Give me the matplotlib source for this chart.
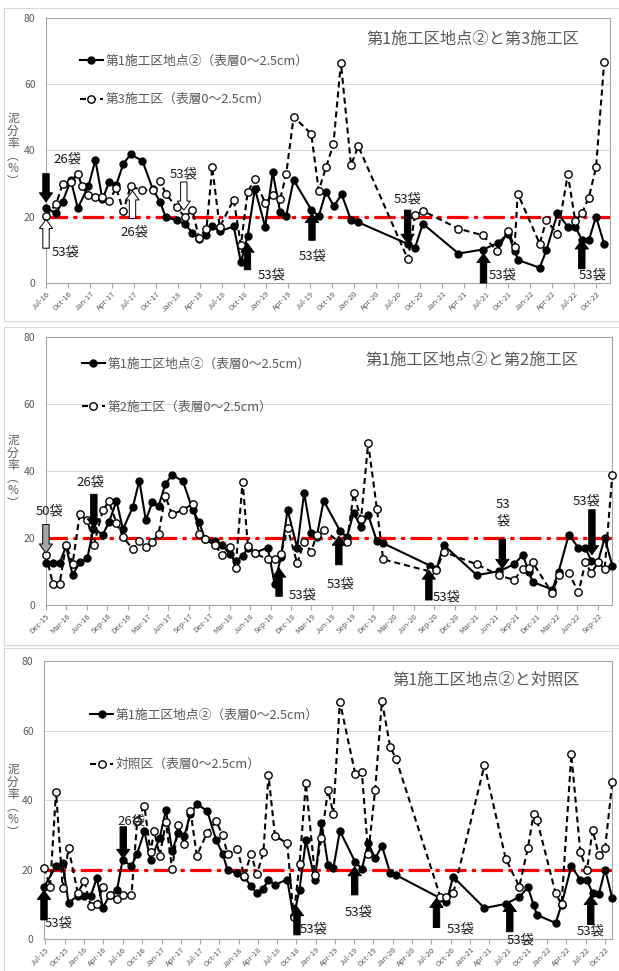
import numpy as np
import pandas as pd
import matplotlib
matplotlib.use('Agg')
import matplotlib.pyplot as plt
import matplotlib.dates as mdates
from matplotlib.patches import Rectangle

plt.rcParams['font.family'] = ['Noto Sans CJK JP', 'DejaVu Sans']

GRAY = '#595959'

# 第1施工区地点② (shared by all three panels)
site1_dates = ['2015-06-25', '2015-08-21', '2015-09-21', '2015-10-19', '2015-12-02', '2016-01-02',
               '2016-02-01', '2016-03-01', '2016-03-30', '2016-05-01', '2016-06-04', '2016-07-01',
               '2016-08-12', '2016-09-08', '2016-10-12', '2016-11-10', '2016-12-24', '2017-01-22',
               '2017-02-20', '2017-03-21', '2017-04-18', '2017-05-18', '2017-06-17', '2017-08-05',
               '2017-09-17', '2017-10-17', '2017-11-10', '2017-12-25', '2018-01-28', '2018-03-01',
               '2018-03-28', '2018-04-28', '2018-05-22', '2018-06-22', '2018-08-19', '2018-09-18',
               '2018-10-16', '2018-11-15', '2018-12-28', '2019-01-28', '2019-02-28', '2019-03-25',
               '2019-04-25', '2019-07-07', '2019-08-07', '2019-09-06', '2019-10-09', '2019-11-10',
               '2019-12-19', '2020-01-16', '2020-08-13', '2020-09-10', '2020-10-12', '2021-03-09',
               '2021-06-18', '2021-08-21', '2021-10-01', '2021-10-28', '2021-11-13', '2022-02-09',
               '2022-03-09', '2022-04-24', '2022-06-06', '2022-07-07', '2022-08-03', '2022-09-01',
               '2022-10-01', '2022-11-04']
site1_vals = [15.0, 20.9, 21.8, 10.4, 12.5, 12.5,
              12.5, 17.5, 9.0, 12.7, 14.0, 22.7,
              21.0, 24.6, 31.0, 22.6, 29.2, 37.1,
              25.3, 30.6, 29.5, 36.0, 38.8, 36.9,
              28.4, 24.6, 19.8, 19.0, 17.8, 15.2,
              13.2, 14.5, 17.1, 15.6, 17.1, 6.3,
              14.2, 28.4, 17.0, 33.4, 21.4, 20.3,
              31.1, 22.1, 20.2, 27.5, 23.2, 26.8,
              19.0, 18.4, 11.7, 10.7, 17.9, 8.9,
              10.1, 12.1, 14.9, 9.7, 6.9, 4.6,
              9.9, 21.0, 17.0, 17.0, 13.1, 12.9,
              20.0, 11.7]

# 第3施工区
site3_dates = ['2016-07-01', '2016-08-12', '2016-09-08', '2016-10-12', '2016-11-10', '2016-11-27',
               '2016-12-24', '2017-01-22', '2017-02-20', '2017-03-21', '2017-04-18', '2017-05-18',
               '2017-06-17', '2017-08-05', '2017-09-17', '2017-10-17', '2017-11-10', '2017-12-25',
               '2018-01-28', '2018-03-01', '2018-03-28', '2018-04-28', '2018-05-22', '2018-06-22',
               '2018-08-19', '2018-09-18', '2018-10-16', '2018-11-15', '2018-12-28', '2019-01-28',
               '2019-02-28', '2019-03-25', '2019-04-25', '2019-07-07', '2019-08-07', '2019-09-06',
               '2019-10-07', '2019-11-07', '2019-12-19', '2020-01-18', '2020-08-11', '2020-09-10',
               '2020-10-12', '2021-03-09', '2021-06-18', '2021-08-16', '2021-10-01', '2021-10-28',
               '2021-11-10', '2022-02-09', '2022-03-09', '2022-04-24', '2022-06-06', '2022-07-07',
               '2022-08-03', '2022-09-01', '2022-10-01', '2022-11-04']
site3_vals = [20.2, 23.8, 29.9, 30.5, 33.0, 29.3,
              26.5, 26.0, 26.1, 24.7, 28.8, 21.7,
              29.2, 28.0, 28.2, 30.8, 27.0, 22.8,
              20.0, 21.9, 13.6, 16.4, 34.9, 16.9,
              25.2, 11.5, 27.5, 31.4, 24.1, 26.5,
              25.3, 32.9, 50.2, 45.0, 27.9, 34.9,
              41.9, 66.5, 35.6, 41.3, 7.2, 20.5,
              21.8, 16.4, 14.4, 9.7, 15.7, 10.9,
              27.0, 11.9, 19.0, 14.7, 32.8, 18.7,
              21.0, 25.8, 34.9, 66.8]

# 第2施工区
site2_dates = ['2015-12-02', '2016-01-02', '2016-02-01', '2016-03-01', '2016-03-30', '2016-05-01',
               '2016-06-04', '2016-07-03', '2016-08-12', '2016-09-08', '2016-10-12', '2016-11-10',
               '2016-12-24', '2017-01-22', '2017-02-20', '2017-03-21', '2017-04-18', '2017-05-18',
               '2017-06-17', '2017-08-05', '2017-09-17', '2017-10-17', '2017-11-10', '2017-12-25',
               '2018-01-28', '2018-03-01', '2018-03-28', '2018-04-28', '2018-05-22', '2018-06-22',
               '2018-08-19', '2018-09-18', '2018-10-16', '2018-11-15', '2018-12-28', '2019-01-28',
               '2019-02-28', '2019-03-25', '2019-04-25', '2019-07-01', '2019-08-07', '2019-09-06',
               '2019-10-09', '2019-11-10', '2019-12-19', '2020-01-16', '2020-08-13', '2020-09-10',
               '2020-10-12', '2021-03-09', '2021-06-18', '2021-08-21', '2021-10-01', '2021-10-28',
               '2021-11-13', '2022-02-09', '2022-03-09', '2022-04-24', '2022-06-06', '2022-07-07',
               '2022-08-03', '2022-09-01', '2022-10-01', '2022-11-04']
site2_vals = [15.0, 6.4, 6.4, 18.0, 12.3, 27.0,
              25.3, 18.0, 28.2, 30.9, 24.5, 20.4,
              16.6, 19.0, 17.4, 18.9, 21.2, 32.5,
              27.0, 28.4, 30.1, 21.2, 19.6, 17.9,
              14.9, 17.4, 10.9, 36.8, 17.6, 15.4,
              13.6, 13.6, 15.1, 22.9, 12.4, 18.9,
              15.9, 20.9, 22.4, 18.9, 18.7, 33.3,
              25.6, 48.3, 28.6, 13.6, 10.0, 10.4,
              15.9, 12.1, 8.8, 7.5, 10.7, 10.9,
              12.7, 3.5, 8.8, 9.5, 3.8, 12.7,
              9.5, 12.7, 10.7, 38.8]

# 対照区
ctrl_dates = ['2015-06-25', '2015-07-24', '2015-08-21', '2015-09-21', '2015-10-19', '2015-12-02',
              '2016-01-02', '2016-02-01', '2016-03-01', '2016-03-30', '2016-05-01', '2016-06-04',
              '2016-07-01', '2016-08-12', '2016-09-08', '2016-10-12', '2016-11-10', '2016-11-27',
              '2016-12-24', '2017-01-22', '2017-02-20', '2017-03-21', '2017-04-18', '2017-05-18',
              '2017-06-17', '2017-08-05', '2017-09-17', '2017-10-17', '2017-11-10', '2017-12-25',
              '2018-01-28', '2018-03-01', '2018-03-28', '2018-04-28', '2018-05-22', '2018-06-22',
              '2018-08-19', '2018-09-18', '2018-10-16', '2018-11-15', '2018-12-28', '2019-01-28',
              '2019-02-28', '2019-03-25', '2019-04-25', '2019-07-07', '2019-08-07', '2019-09-06',
              '2019-10-09', '2019-11-10', '2019-12-19', '2020-01-16', '2020-08-13', '2020-09-10',
              '2020-10-12', '2021-03-09', '2021-06-18', '2021-08-21', '2021-10-01', '2021-10-28',
              '2021-11-13', '2022-02-09', '2022-03-09', '2022-04-24', '2022-06-06', '2022-07-07',
              '2022-08-03', '2022-09-01', '2022-10-01', '2022-11-04']
ctrl_vals = [20.5, 15.1, 42.4, 14.8, 26.1, 13.3,
             16.7, 9.6, 10.0, 15.1, 12.8, 11.5,
             12.8, 12.7, 34.0, 38.3, 24.9, 31.1,
             24.0, 33.7, 20.1, 32.8, 27.3, 36.9,
             24.0, 30.6, 33.9, 29.9, 24.4, 25.9,
             18.2, 24.6, 18.6, 24.9, 47.2, 29.7,
             27.5, 6.4, 21.5, 44.8, 18.4, 29.1,
             42.9, 36.1, 68.3, 47.4, 48.1, 24.4,
             42.9, 68.5, 55.3, 51.8, 12.0, 12.2,
             13.1, 50.0, 23.0, 15.1, 26.3, 36.1,
             34.2, 13.1, 10.0, 53.1, 24.9, 19.8,
             31.4, 24.2, 26.1, 45.3]

label1 = '第1施工区地点②（表層0～2.5cm）'

# arrows: (date, tail value, tip value, fill colour); labels: (date, value, text)
p1_arrows = [('2016-07-01', 33.0, 24.5, 'black'), ('2016-07-01', 10.5, 19.2, 'white'),
             ('2017-06-25', 19.5, 27.8, 'white'), ('2018-01-24', 30.5, 22.0, 'white'),
             ('2018-10-15', 4.0, 12.0, 'black'), ('2019-07-10', 12.9, 21.0, 'black'),
             ('2020-08-10', 22.0, 12.0, 'black'), ('2021-06-21', 0.0, 8.9, 'black'),
             ('2022-08-03', 4.3, 13.0, 'black')]
p1_labels = [('2016-09-27', 37.3, '26袋'), ('2016-09-19', 9.4, '53袋'), ('2017-07-05', 15.4, '26袋'),
             ('2018-01-24', 33.0, '53袋'), ('2019-01-22', 2.5, '53袋'), ('2019-07-12', 8.2, '53袋'),
             ('2020-08-12', 25.2, '53袋'), ('2021-09-10', 2.5, '53袋'), ('2022-09-15', 2.3, '53袋')]

p2_arrows = [('2015-12-02', 24.0, 15.5, '#a6a6a6'), ('2016-07-03', 33.0, 23.0, 'black'),
             ('2018-10-08', 2.6, 11.0, 'black'), ('2019-07-02', 12.0, 20.5, 'black'),
             ('2020-08-07', 1.5, 10.4, 'black'), ('2021-07-01', 19.6, 10.9, 'black'),
             ('2022-08-05', 28.4, 15.0, 'black')]
p2_labels = [('2015-12-20', 28.0, '50袋'), ('2016-06-19', 36.6, '26袋'), ('2019-01-22', 3.0, '53袋'),
             ('2019-07-12', 6.1, '53袋'), ('2020-10-25', 2.5, '53袋'), ('2021-07-05', 30.0, '53'),
             ('2021-07-05', 24.9, '袋'), ('2022-07-12', 31.0, '53袋')]

p3_arrows = [('2015-06-25', 5.5, 14.0, 'black'), ('2016-07-04', 32.3, 23.2, 'black'),
             ('2018-10-04', 1.2, 9.3, 'black'), ('2019-07-04', 12.7, 20.8, 'black'),
             ('2020-07-25', 3.3, 11.7, 'black'), ('2021-07-07', 2.1, 10.5, 'black'),
             ('2022-07-25', 4.2, 12.5, 'black')]
p3_labels = [('2015-09-01', 4.5, '53袋'), ('2016-08-10', 34.0, '26袋'), ('2018-12-22', 2.8, '53袋'),
             ('2019-07-25', 7.7, '53袋'), ('2020-11-15', 2.9, '53袋'), ('2021-08-25', -0.3, '53袋'),
             ('2022-07-26', 2.3, '53袋')]

panels = [
    dict(box=(46, 18, 610, 283), frame=(4, 8, 625, 321), xlim=('2016-07-01', '2022-11-28'),
         months=(1, 4, 7, 10), odates=site3_dates, ovals=site3_vals,
         olabel='第3施工区（表層0～2.5cm）', title='第1施工区地点②と第3施工区', tpos=(0.757, 0.92),
         leg=(0.060, 0.861), lspace=1.97, arrows=p1_arrows, labels=p1_labels, ylab_y=150),
    dict(box=(45.7, 336.7, 612.3, 605), frame=(4, 327, 625, 645), xlim=('2015-12-01', '2022-11-04'),
         months=(3, 6, 9, 12), odates=site2_dates, ovals=site2_vals,
         olabel='第2施工区（表層0～2.5cm）', title='第1施工区地点②と第2施工区', tpos=(0.752, 0.913),
         leg=(0.0635, 0.921), lspace=2.35, arrows=p2_arrows, labels=p2_labels, ylab_y=472),
    dict(box=(44, 661, 612.3, 939), frame=(4, 648, 625, 980), xlim=('2015-06-25', '2022-11-04'),
         months=(1, 4, 7, 10), odates=ctrl_dates, ovals=ctrl_vals,
         olabel='対照区（表層0～2.5cm）', title='第1施工区地点②と対照区', tpos=(0.779, 0.932),
         leg=(0.081, 0.828), lspace=2.85, arrows=p3_arrows, labels=p3_labels, ylab_y=801),
]

W, H = 619, 971
fig = plt.figure(figsize=(W / 100, H / 100), dpi=100)

for p in panels:
    l, t, r, b = p['frame']
    fig.patches.append(Rectangle((l / W, 1 - b / H), (r - l) / W, (b - t) / H,
                                 transform=fig.transFigure, fill=False, ec='#d9d9d9', lw=0.8))
    l, t, r, b = p['box']
    ax = fig.add_axes([l / W, 1 - b / H, (r - l) / W, (b - t) / H])

    lo, hi = pd.Timestamp(p['xlim'][0]), pd.Timestamp(p['xlim'][1])
    sd = pd.to_datetime(site1_dates)
    sv = np.array(site1_vals)
    keep = (sd >= lo) & (sd <= hi)

    ax.axhline(20, color='#ff0000', lw=2.3, ls=(0, (6.7, 1.7, 1.3, 1.7)), zorder=2)
    ax.plot(sd[keep], sv[keep], color='black', lw=1.5, marker='o', ms=5, mfc='black',
            mec='black', clip_on=False, zorder=3, label=label1)
    ax.plot(pd.to_datetime(p['odates']), p['ovals'], color='black', lw=1.5, ls=(0, (2.9, 1.9)),
            marker='o', ms=5.3, mfc='white', mec='black', mew=1.0, clip_on=False, zorder=4,
            label=p['olabel'])

    for dt, y0, y1, fc in p['arrows']:
        x = mdates.date2num(pd.Timestamp(dt))
        ax.annotate('', xy=(x, y1), xytext=(x, y0), annotation_clip=False, zorder=6,
                    arrowprops=dict(arrowstyle='simple,head_length=6.5,head_width=9.5,tail_width=4.6',
                                    mutation_scale=1, fc=fc, ec='black', lw=0.7,
                                    shrinkA=0, shrinkB=0))
    for dt, y, s in p['labels']:
        ax.text(mdates.date2num(pd.Timestamp(dt)), y, s, ha='center', va='center',
                fontsize=9.5, color='#1a1a1a', zorder=7)

    ax.set_xlim(lo, hi)
    ax.set_ylim(0, 80)
    ax.set_yticks([0, 20, 40, 60, 80])
    ax.yaxis.grid(True, color='#d9d9d9', lw=0.75)
    ax.set_axisbelow(True)
    for sp in ax.spines.values():
        sp.set_color('#a6a6a6')
        sp.set_linewidth(0.8)

    ax.xaxis.set_major_locator(mdates.MonthLocator(bymonth=p['months'], bymonthday=1))
    ax.xaxis.set_major_formatter(mdates.DateFormatter('%b-%y'))
    ax.tick_params(axis='x', labelsize=5.5, labelcolor=GRAY, color='#a6a6a6', length=3.5,
                   pad=1.5, labelrotation=45)
    ax.tick_params(axis='y', length=0, labelsize=7.5, labelcolor=GRAY, pad=7.5)
    plt.setp(ax.get_xticklabels(), ha='right', rotation_mode='anchor')

    ax.text(p['tpos'][0], p['tpos'][1], p['title'], transform=ax.transAxes, ha='center',
            va='center', fontsize=11.7, color=GRAY)
    ax.legend(loc='upper left', bbox_to_anchor=p['leg'], frameon=False, fontsize=9.2,
              borderpad=0, borderaxespad=0, handlelength=1.8, handletextpad=0.2,
              labelspacing=p['lspace'], labelcolor=GRAY)

    fig.text(13 / W, 1 - p['ylab_y'] / H, '泥\n分\n率\n︵\n%\n︶', ha='center', va='center',
             fontsize=8.5, color=GRAY, linespacing=0.95)

fig.savefig('out.png', dpi=100)
